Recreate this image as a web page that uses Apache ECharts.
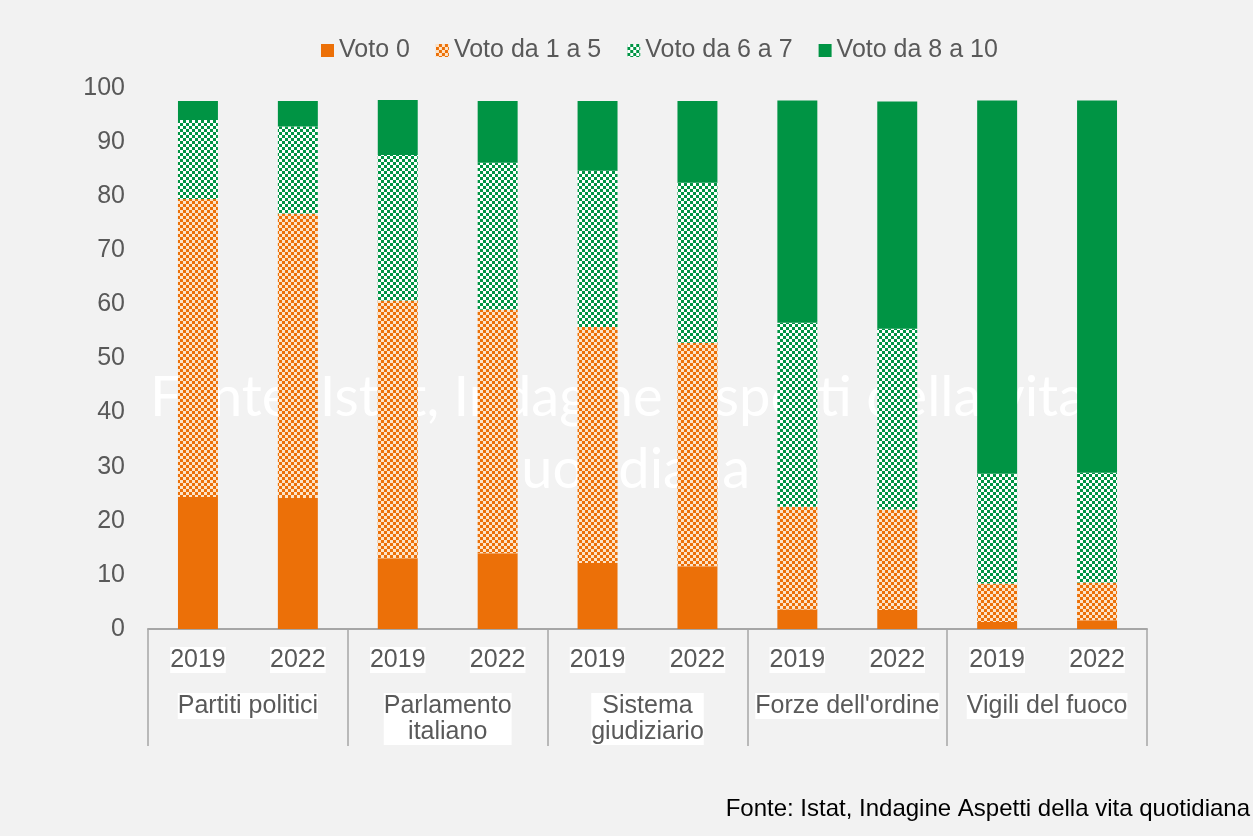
<!DOCTYPE html>
<html>
<head>
<meta charset="utf-8">
<script src="https://cdn.jsdelivr.net/npm/echarts@6/dist/echarts.min.js"></script>
<style>
  html, body { margin: 0; padding: 0; background: #f2f2f2; }
  #chart { width: 1253px; height: 836px; }
</style>
</head>
<body>
<div id="chart"></div>
<script>
// anni e gruppi (asse a due livelli)
var years = ['2019', '2022', '2019', '2022', '2019', '2022', '2019', '2022', '2019', '2022'];
var groups = ['Partiti politici', 'Parlamento\nitaliano', 'Sistema\ngiudiziario', "Forze dell'ordine", 'Vigili del fuoco'];

var seriesNames = ['Voto 0', 'Voto da 1 a 5', 'Voto da 6 a 7', 'Voto da 8 a 10'];
var voto0 = [24.4, 24.2, 13.1, 14.0, 12.2, 11.6, 3.6, 3.5, 1.3, 1.6];
var voto1a5 = [55.1, 52.6, 47.6, 45.0, 43.6, 41.3, 19.0, 18.6, 7.1, 7.0];
var voto6a7 = [14.6, 16.1, 26.9, 27.2, 28.9, 29.6, 34.0, 33.4, 20.3, 20.3];
var voto8a10 = [3.5, 4.7, 10.2, 11.4, 12.9, 15.1, 41.1, 42.0, 69.0, 68.8];

var fonte = 'Fonte: Istat, Indagine Aspetti della vita quotidiana';

var ORANGE = '#ec7008';
var GREEN = '#009444';
var FONT = 'Liberation Sans, Arial, sans-serif';

// scacchiera
function checker(color) {
  return {
    symbol: 'rect',
    symbolSize: 1,
    color: color,
    dashArrayX: [[3, 3], [0, 3, 3, 0]],
    dashArrayY: [3, 0]
  };
}

var myChart = echarts.init(document.getElementById('chart'));

var labelStyle = {
  fontFamily: FONT,
  fontSize: 25,
  lineHeight: 26,
  color: '#595959',
  backgroundColor: '#ffffff'
};

var option = {
  backgroundColor: '#f2f2f2',
  animation: false,
  legend: {
    top: 33,
    left: 316,
    itemWidth: 13,
    itemHeight: 13,
    itemGap: 26,
    icon: 'rect',
    textStyle: { fontFamily: FONT, fontSize: 25, color: '#595959' },
    data: seriesNames
  },
  grid: { left: 148, right: 106, top: 88, bottom: 207 },
  xAxis: [
    {
      type: 'category',
      data: years,
      axisLine: { lineStyle: { color: '#a6a6a6', width: 2 } },
      axisTick: { show: false },
      axisLabel: Object.assign({ margin: 18, interval: 0 }, labelStyle)
    },
    {
      type: 'category',
      data: groups,
      position: 'bottom',
      axisLine: { show: false },
      axisTick: { show: true, length: 117, interval: 0, lineStyle: { color: '#a6a6a6', width: 1.5 } },
      axisLabel: Object.assign({ margin: 64, interval: 0 }, labelStyle)
    }
  ],
  yAxis: {
    type: 'value',
    min: 0,
    max: 100,
    interval: 10,
    splitLine: { show: false },
    axisLine: { show: false },
    axisTick: { show: false },
    axisLabel: { fontFamily: FONT, fontSize: 25, color: '#595959', margin: 23 }
  },
  graphic: [
    {
      type: 'text',
      z: 0,
      x: 618,
      y: 398,
      style: {
        text: 'Fonte: Istat, Indagine Aspetti della vita',
        font: '56px Lato, sans-serif',
        fill: '#ffffff',
        textAlign: 'center',
        textVerticalAlign: 'middle'
      }
    },
    {
      type: 'text',
      z: 0,
      x: 620,
      y: 470,
      style: {
        text: 'quotidiana',
        font: '56px Lato, sans-serif',
        fill: '#ffffff',
        textAlign: 'center',
        textVerticalAlign: 'middle'
      }
    },
    {
      type: 'text',
      right: 3,
      top: 797,
      style: {
        text: fonte,
        font: '24px ' + FONT,
        fill: '#000000'
      }
    }
  ],
  series: [
    {
      name: seriesNames[0], type: 'bar', stack: 'tot', barWidth: '40%',
      itemStyle: { color: ORANGE },
      data: voto0
    },
    {
      name: seriesNames[1], type: 'bar', stack: 'tot',
      itemStyle: { color: '#fde4c8', decal: checker(ORANGE) },
      data: voto1a5
    },
    {
      name: seriesNames[2], type: 'bar', stack: 'tot',
      itemStyle: { color: '#ffffff', decal: checker(GREEN) },
      data: voto6a7
    },
    {
      name: seriesNames[3], type: 'bar', stack: 'tot',
      itemStyle: { color: GREEN },
      data: voto8a10
    }
  ]
};

myChart.setOption(option);
</script>
</body>
</html>
